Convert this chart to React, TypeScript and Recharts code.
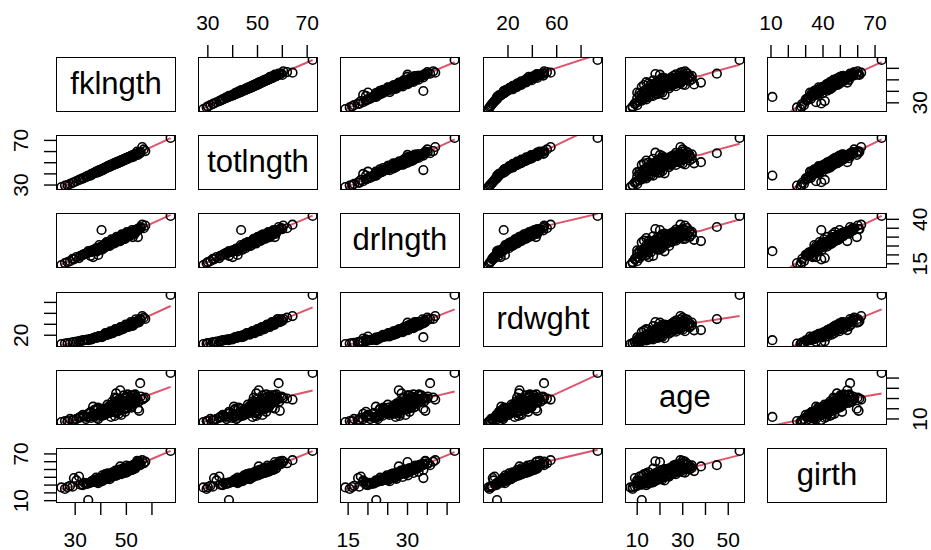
import React from "react";
import { ComposedChart, Scatter, Line, XAxis, YAxis } from "recharts";

// sturgeon measurements, one entry per fish (same index across arrays)
const fklngth = [
  67.3, 35.1, 40.3, 55.4, 47.6, 24.6, 26.0, 28.0, 29.5, 31.5,
  30.5, 57.4, 56.2, 56.8, 54.2, 33.0, 34.5, 36.0, 37.0, 38.0,
  39.0, 40.0, 41.0, 41.5, 42.0, 42.5, 43.0, 43.5, 44.0, 44.5,
  45.0, 45.5, 46.0, 46.5, 47.0, 48.0, 48.5, 49.0, 49.5, 50.0,
  50.5, 51.0, 51.5, 52.0, 52.5, 53.0, 53.5, 54.0, 55.0, 36.5,
  37.5, 38.5, 39.5, 40.5, 41.0, 42.0, 43.0, 44.0, 45.0, 46.0,
  47.0, 48.0, 49.0, 50.0, 51.0, 52.0, 53.0, 44.5, 45.5, 46.5,
  47.5, 48.5, 49.5, 42.5, 43.5, 40.0, 38.5, 35.0, 33.5, 32.0,
  29.0, 27.0, 36.0, 50.5, 51.5, 46.0, 53.5, 48.0, 44.0, 39.0,
  52.5, 54.5, 41.0, 47.0, 37.0, 49.5, 45.5, 50.0,
  38.2, 39.4, 40.6, 41.3, 41.8, 42.3, 42.8, 43.2, 43.7, 44.2,
  44.7, 45.2, 45.7, 46.2, 46.7, 47.2, 47.7, 48.2, 48.7, 49.2,
  49.7, 50.2, 50.7, 51.2, 51.7, 52.2, 52.7, 53.2, 53.7, 39.8,
  40.9, 42.1, 43.4, 44.6, 45.9, 47.1, 48.4, 49.6, 50.9, 52.1,
  46.4, 44.9, 43.9, 47.9, 49.1, 50.4, 51.9, 53.4, 37.4, 36.3,
  34.2, 32.8, 38.9, 45.4, 46.9, 48.9, 50.6, 55.6, 54.8, 42.6,
  41.6, 47.4,
];
const totlngth = [
  72.2, 38.5, 43.4, 58.5, 50.5, 28.2, 29.5, 31.0, 32.5, 34.6,
  33.5, 60.4, 64.1, 61.9, 60.0, 36.0, 37.2, 39.0, 40.0, 41.5,
  42.0, 43.5, 44.0, 45.0, 45.5, 46.0, 46.0, 47.0, 47.5, 48.0,
  48.5, 49.0, 49.5, 50.0, 50.5, 51.5, 52.0, 52.5, 53.0, 53.5,
  54.0, 55.0, 55.5, 56.0, 56.5, 57.0, 57.5, 58.0, 59.0, 40.0,
  41.0, 42.0, 43.0, 44.0, 44.5, 45.0, 46.5, 47.0, 48.0, 49.0,
  50.0, 51.0, 52.0, 53.0, 54.5, 55.5, 56.0, 47.5, 48.5, 49.5,
  51.0, 51.5, 52.5, 45.5, 46.5, 42.5, 41.0, 38.0, 36.5, 35.0,
  32.0, 30.0, 38.5, 53.5, 54.5, 49.5, 56.5, 52.0, 48.0, 41.5,
  55.0, 57.0, 43.5, 50.0, 40.5, 53.5, 49.5, 54.0,
  42.0, 43.3, 44.6, 45.2, 45.7, 46.4, 46.9, 47.4, 47.8, 48.3,
  48.9, 49.4, 49.9, 50.3, 50.9, 51.3, 51.8, 52.3, 52.8, 53.3,
  53.9, 54.3, 54.9, 55.3, 55.8, 56.4, 56.8, 57.3, 57.9, 43.0,
  44.2, 45.8, 46.9, 48.1, 49.6, 50.7, 52.0, 53.2, 54.6, 55.7,
  50.6, 48.6, 47.6, 51.6, 53.0, 54.1, 56.1, 57.6, 40.7, 39.8,
  37.5, 35.8, 42.4, 49.2, 50.4, 52.6, 54.5, 59.6, 58.8, 46.1,
  44.9, 51.2,
];
const drlngth = [
  41.9, 22.1, 34.0, 35.7, 27.8, 14.3, 15.4, 16.5, 17.5, 18.2,
  18.8, 36.5, 37.0, 35.0, 34.5, 20.0, 21.0, 21.5, 18.8, 23.5,
  20.0, 24.5, 25.0, 26.0, 25.5, 27.0, 26.0, 25.0, 27.5, 28.0,
  27.0, 28.5, 29.0, 28.0, 29.5, 30.0, 30.5, 29.5, 31.0, 31.5,
  30.5, 32.0, 32.5, 31.5, 33.0, 33.5, 32.5, 34.0, 34.5, 22.5,
  23.0, 22.0, 24.0, 23.0, 24.5, 26.5, 27.0, 26.0, 28.0, 27.5,
  30.0, 28.5, 30.5, 30.0, 31.0, 32.5, 32.0, 26.5, 29.0, 27.5,
  29.0, 31.0, 29.0, 25.5, 27.0, 23.5, 23.0, 21.5, 20.5, 19.5,
  17.8, 16.0, 19.5, 31.5, 32.0, 28.5, 33.0, 29.5, 27.0, 22.5,
  30.0, 30.0, 24.0, 28.0, 22.0, 30.5, 28.0, 32.0,
  23.1, 25.5, 24.8, 23.8, 25.9, 27.2, 26.4, 25.2, 26.9, 28.8,
  27.5, 26.4, 28.3, 30.1, 29.0, 27.9, 29.7, 31.5, 30.4, 29.2,
  31.2, 32.8, 31.8, 30.6, 32.4, 34.0, 33.1, 31.8, 33.8, 23.6,
  24.6, 26.0, 26.1, 27.8, 28.1, 29.2, 29.8, 30.9, 31.5, 32.3,
  28.9, 27.2, 27.4, 30.2, 30.1, 31.0, 32.8, 32.9, 22.4, 21.8,
  20.6, 19.8, 23.9, 26.8, 28.4, 29.9, 30.8, 35.1, 34.2, 25.0,
  25.4, 29.9,
];
const rdwght = [
  93.6, 11.0, 16.5, 49.6, 29.5, 3.9, 4.8, 6.2, 7.5, 9.0,
  8.2, 49.7, 55.0, 52.0, 46.0, 10.5, 11.5, 13.0, 14.0, 16.0,
  17.5, 18.5, 20.0, 21.0, 22.0, 23.5, 24.0, 22.5, 25.0, 26.5,
  27.0, 28.0, 30.0, 28.5, 31.0, 32.0, 34.0, 33.0, 35.0, 37.0,
  36.0, 38.5, 40.0, 39.0, 42.0, 41.0, 43.5, 45.0, 44.0, 12.5,
  15.0, 15.5, 18.0, 17.0, 19.5, 20.5, 23.0, 23.5, 26.0, 27.5,
  30.5, 31.5, 34.5, 35.5, 37.5, 40.5, 42.5, 24.5, 27.5, 29.5,
  32.5, 33.5, 34.0, 21.5, 24.0, 18.0, 16.5, 12.0, 11.0, 9.5,
  7.0, 5.5, 12.5, 38.0, 39.5, 29.0, 44.0, 31.0, 25.5, 16.0,
  37.0, 43.0, 18.5, 30.0, 14.5, 36.5, 28.5, 36.0,
  16.2, 17.8, 17.8, 20.8, 23.8, 22.4, 21.0, 24.1, 27.2, 25.7,
  24.0, 27.3, 31.0, 29.2, 27.5, 31.2, 35.0, 33.1, 31.0, 35.0,
  39.5, 37.4, 35.0, 39.6, 44.0, 41.7, 39.0, 44.0, 49.0, 18.1,
  19.2, 21.8, 23.6, 25.2, 28.0, 30.6, 33.6, 35.6, 38.9, 40.8,
  29.8, 26.0, 24.6, 32.4, 34.6, 37.0, 41.2, 43.2, 14.8, 13.6,
  11.4, 10.0, 17.0, 26.9, 30.4, 34.8, 37.9, 48.5, 46.8, 22.8,
  20.6, 31.5,
];
const age = [
  55, 12, 20, 45, 38, 7, 8, 10, 9, 11,
  10, 31, 29, 30, 30, 14, 12, 16, 15, 18,
  14, 17, 15, 18, 19, 20, 20, 16, 19, 27,
  21, 24, 30, 18, 26, 22, 28, 20, 25, 31,
  23, 27, 29, 21, 29, 33, 28, 31, 18, 13,
  19, 11, 17, 13, 19, 15, 22, 19, 25, 16,
  29, 21, 33, 20, 25, 30, 30, 22, 31, 24,
  27, 23, 26, 18, 20, 16, 20, 15, 13, 12,
  9, 8, 17, 34, 22, 35, 26, 14, 12, 10,
  33, 20, 20, 15, 22, 17, 13, 26,
  14, 16, 15, 18, 20, 17, 19, 21, 18, 22,
  20, 23, 21, 24, 22, 25, 23, 26, 24, 27,
  25, 28, 26, 29, 27, 30, 28, 31, 29, 13,
  17, 16, 20, 19, 22, 20, 23, 21, 24, 25,
  27, 25, 23, 29, 30, 32, 33, 34, 12, 11,
  10, 12, 21, 17, 18, 19, 21, 32, 27, 24,
  14, 28,
];
const girth = [
  73.8, 10.8, 39.0, 55.6, 54.0, 27.0, 25.0, 29.0, 39.0, 41.0,
  36.0, 60.0, 62.0, 58.0, 61.0, 30.0, 31.5, 33.0, 34.0, 35.5,
  32.5, 37.0, 36.0, 42.0, 38.0, 40.0, 41.0, 37.5, 43.0, 44.0,
  42.0, 45.0, 46.5, 43.5, 47.0, 46.0, 48.5, 45.5, 49.0, 50.0,
  47.5, 51.0, 52.5, 49.5, 53.0, 54.5, 51.5, 56.0, 60.5, 34.5,
  36.5, 33.5, 38.5, 35.0, 40.5, 39.0, 42.5, 40.0, 44.5, 42.0,
  48.0, 44.0, 50.5, 46.0, 48.5, 53.5, 52.0, 41.5, 46.0, 45.0,
  47.5, 49.5, 47.0, 39.5, 43.5, 36.0, 37.5, 32.0, 33.0, 30.5,
  28.0, 27.5, 33.5, 52.0, 50.5, 48.0, 55.0, 45.0, 42.0, 35.0,
  50.0, 59.5, 38.0, 46.5, 36.0, 51.0, 44.0, 55.0,
  39.5, 35.0, 42.5, 37.5, 44.0, 38.0, 45.0, 39.5, 44.5, 40.5,
  46.5, 42.0, 48.5, 42.5, 49.5, 44.0, 50.0, 45.5, 51.5, 46.0,
  52.5, 47.0, 53.0, 48.5, 54.5, 49.5, 56.0, 51.0, 57.5, 36.2,
  38.4, 39.8, 41.9, 43.9, 45.8, 45.9, 47.9, 48.1, 49.9, 51.2,
  47.3, 44.2, 43.1, 48.9, 50.3, 51.3, 52.9, 55.2, 35.2, 34.6,
  31.8, 31.0, 37.2, 43.3, 44.9, 46.8, 48.6, 57.2, 56.4, 40.9,
  38.9, 49.6,
];

const varNames = ["fklngth", "totlngth", "drlngth", "rdwght", "age", "girth"];
const columns = [fklngth, totlngth, drlngth, rdwght, age, girth];

// tick marks and which of them keep a label (R drops overlapping ones)
const axisTicks = [
  [30, 40, 50, 60],
  [30, 40, 50, 60, 70],
  [15, 20, 25, 30, 35, 40],
  [20, 40, 60, 80],
  [10, 20, 30, 40, 50],
  [10, 20, 30, 40, 50, 60, 70],
];
const xLabels = [[30, 50], [30, 50, 70], [15, 30], [20, 60], [10, 30, 50], [10, 40, 70]];
const yLabels = [[30], [30, 70], [15, 40], [20], [10], [10, 70]];

const PW = 118;
const PH = 53;
const PAD = 60;
const AX = 50;
const COL0 = 57;
const ROW0 = 58;
const DX = 142.2;
const DY = 78.2;
const FONT = "'Liberation Sans', Arial, Helvetica, sans-serif";
const RED = "#DF536B";

function padded(v: number[]): [number, number] {
  const lo = Math.min(...v);
  const hi = Math.max(...v);
  const r = hi - lo;
  return [lo - 0.04 * r, hi + 0.04 * r];
}

// port of R's clowess (f = 2/3, iter = 3)
function lowess(xIn: number[], yIn: number[], f = 2 / 3, iter = 3) {
  const order = xIn.map((_, k) => k).sort((a, b) => xIn[a] - xIn[b]);
  const x = order.map((k) => xIn[k]);
  const y = order.map((k) => yIn[k]);
  const n = x.length;
  const ns = Math.max(2, Math.min(n, Math.floor(f * n + 1e-7)));
  const range = x[n - 1] - x[0];
  let rw = new Array(n).fill(1);
  const ys = new Array(n).fill(0);
  for (let it = 0; it <= iter; it++) {
    let nleft = 0;
    let nright = ns - 1;
    for (let i = 0; i < n; i++) {
      while (nright < n - 1 && x[i] - x[nleft] > x[nright + 1] - x[i]) {
        nleft++;
        nright++;
      }
      const h = Math.max(x[i] - x[nleft], x[nright] - x[i]);
      const h9 = 0.999 * h;
      const h1 = 0.001 * h;
      const w = new Array(n).fill(0);
      let a = 0;
      let j = nleft;
      for (; j < n; j++) {
        const r = Math.abs(x[j] - x[i]);
        if (r <= h9) {
          w[j] = r <= h1 ? 1 : Math.pow(1 - Math.pow(r / h, 3), 3);
          if (it > 0) w[j] *= rw[j];
          a += w[j];
        } else if (x[j] > x[i]) break;
      }
      const nrt = j - 1;
      if (a <= 0) {
        ys[i] = y[i];
        continue;
      }
      for (let k = nleft; k <= nrt; k++) w[k] /= a;
      if (h > 0) {
        let m = 0;
        for (let k = nleft; k <= nrt; k++) m += w[k] * x[k];
        let b = x[i] - m;
        let c = 0;
        for (let k = nleft; k <= nrt; k++) c += w[k] * (x[k] - m) * (x[k] - m);
        if (Math.sqrt(c) > 0.001 * range) {
          b /= c;
          for (let k = nleft; k <= nrt; k++) w[k] *= b * (x[k] - m) + 1;
        }
      }
      let s = 0;
      for (let k = nleft; k <= nrt; k++) s += w[k] * y[k];
      ys[i] = s;
    }
    if (it === iter) break;
    const res = y.map((v, k) => v - ys[k]);
    const abs = res.map((v) => Math.abs(v)).sort((p, q) => p - q);
    const m1 = Math.floor(n / 2);
    const m2 = n - m1 - 1;
    const cmad = 3 * (abs[m1] + abs[m2]);
    const meanY = y.reduce((p, q) => p + Math.abs(q), 0) / n;
    if (cmad < 1e-7 * meanY) break;
    rw = res.map((r) => {
      const ar = Math.abs(r);
      if (ar <= 0.001 * cmad) return 1;
      if (ar > 0.999 * cmad) return 0;
      const u = r / cmad;
      return (1 - u * u) * (1 - u * u);
    });
  }
  return x.map((v, k) => ({ x: v, y: ys[k] }));
}

const Circle = (p: any) => (
  <circle cx={p.cx} cy={p.cy} r={4.3} fill="none" stroke="#000" strokeWidth={1.6} />
);

function Panel({ i, j }: { i: number; j: number }) {
  const left = Math.round(COL0 + DX * j);
  const top = Math.round(ROW0 + DY * i);
  const xs = columns[j];
  const ys = columns[i];
  const pts = xs.map((v, k) => ({ x: v, y: ys[k] }));
  const smooth = lowess(xs, ys);
  const showTop = i === 0 && j % 2 === 1;
  const showBottom = i === 5 && j % 2 === 0;
  const showLeft = j === 0 && i % 2 === 1;
  const showRight = j === 5 && i % 2 === 0;

  const xTick = (p: any) => {
    if (!xLabels[j].includes(p.payload.value)) return <g />;
    const ty = showTop ? PAD - 35.5 : PAD + PH + 37.5;
    return (
      <text x={p.x} y={ty} textAnchor="middle" dominantBaseline="central" fontSize={21} fontFamily={FONT} fill="#000">
        {p.payload.value}
      </text>
    );
  };
  const yTick = (p: any) => {
    if (!yLabels[i].includes(p.payload.value)) return <g />;
    const tx = showLeft ? PAD - 36 : PAD + PW + 34;
    return (
      <text
        x={tx}
        y={p.y}
        transform={`rotate(-90 ${tx} ${p.y})`}
        textAnchor="middle"
        dominantBaseline="central"
        fontSize={21}
        fontFamily={FONT}
        fill="#000"
      >
        {p.payload.value}
      </text>
    );
  };

  return (
    <div style={{ position: "absolute", left: left - PAD, top: top - PAD }}>
      <ComposedChart
        width={PW + 2 * PAD}
        height={PH + 2 * PAD}
        margin={{
          top: PAD - (showTop ? AX : 0),
          bottom: PAD - (showBottom ? AX : 0),
          left: PAD - (showLeft ? AX : 0),
          right: PAD - (showRight ? AX : 0),
        }}
      >
        <XAxis
          type="number"
          dataKey="x"
          domain={padded(xs)}
          allowDataOverflow
          hide={!(showTop || showBottom)}
          orientation={showTop ? "top" : "bottom"}
          height={AX}
          ticks={axisTicks[j]}
          interval={0}
          tickSize={13}
          axisLine={false}
          tickLine={{ stroke: "#000", strokeWidth: 1.4 }}
          tick={xTick}
        />
        <YAxis
          type="number"
          dataKey="y"
          domain={padded(ys)}
          allowDataOverflow
          hide={!(showLeft || showRight)}
          orientation={showLeft ? "left" : "right"}
          width={AX}
          ticks={axisTicks[i]}
          interval={0}
          tickSize={13}
          axisLine={false}
          tickLine={{ stroke: "#000", strokeWidth: 1.4 }}
          tick={yTick}
        />
        <Scatter data={pts} shape={Circle} isAnimationActive={false} />
        <Line
          data={smooth}
          dataKey="y"
          type="linear"
          dot={false}
          activeDot={false}
          stroke={RED}
          strokeWidth={2}
          isAnimationActive={false}
        />
      </ComposedChart>
    </div>
  );
}

export default function App() {
  const cells = [];
  for (let i = 0; i < 6; i++) {
    for (let j = 0; j < 6; j++) {
      const left = Math.round(COL0 + DX * j);
      const top = Math.round(ROW0 + DY * i);
      if (i !== j) cells.push(<Panel key={`p${i}${j}`} i={i} j={j} />);
      cells.push(
        <div
          key={`b${i}${j}`}
          style={{
            position: "absolute",
            left: left - 0.8,
            top: top - 0.8,
            width: PW + 1.6,
            height: PH + 1.6,
            boxSizing: "border-box",
            border: "1.6px solid #000",
            display: "flex",
            alignItems: "center",
            justifyContent: "center",
            fontFamily: FONT,
            fontSize: 31,
            color: "#000",
          }}
        >
          {i === j ? varNames[i] : null}
        </div>
      );
    }
  }
  return (
    <div style={{ position: "absolute", left: 0, top: 0, width: 931, height: 550, background: "#fff", overflow: "hidden" }}>
      {cells}
    </div>
  );
}
